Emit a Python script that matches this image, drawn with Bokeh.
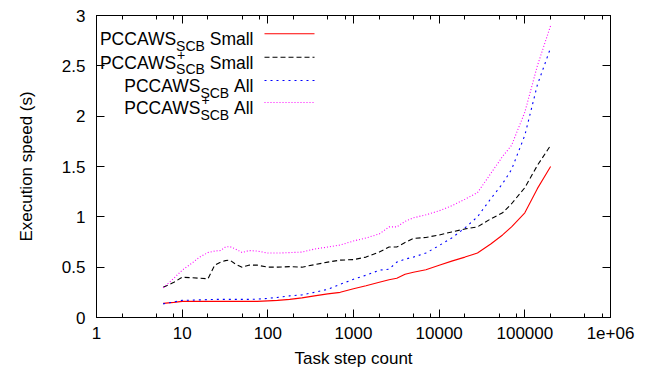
from bokeh.plotting import figure
from bokeh.models import Range1d, FixedTicker, LogAxis, LinearAxis, CustomJSTickFormatter, Label
from bokeh.embed import file_html
from bokeh.resources import INLINE
import math

# ---------------- data ----------------
steps = [6, 8, 10, 13, 16, 20, 24, 28, 32, 36,
         42, 50, 60, 75, 100, 130, 180, 250, 350, 500,
         700, 1000, 1400, 2000, 2600, 3200, 4000, 5000, 7000, 10000,
         14000, 20000, 28000, 40000, 55000, 70000, 100000, 140000, 200000]

small = [0.14, 0.15, 0.16, 0.16, 0.16, 0.16, 0.16, 0.16, 0.16, 0.16,
         0.16, 0.16, 0.16, 0.16, 0.165, 0.17, 0.18, 0.195, 0.215, 0.235,
         0.25, 0.285, 0.315, 0.35, 0.375, 0.39, 0.43, 0.45, 0.475, 0.52,
         0.56, 0.60, 0.64, 0.73, 0.82, 0.90, 1.04, 1.28, 1.50]

plus_small = [0.30, 0.35, 0.40, 0.395, 0.39, 0.385, 0.52, 0.55, 0.565, 0.57,
              0.53, 0.50, 0.52, 0.52, 0.50, 0.50, 0.505, 0.50, 0.525, 0.55,
              0.57, 0.575, 0.60, 0.65, 0.70, 0.70, 0.745, 0.785, 0.795, 0.82,
              0.85, 0.88, 0.90, 0.98, 1.04, 1.13, 1.29, 1.51, 1.71]

all_ = [0.135, 0.155, 0.17, 0.172, 0.175, 0.178, 0.18, 0.18, 0.18, 0.18,
        0.18, 0.18, 0.18, 0.182, 0.19, 0.20, 0.215, 0.225, 0.25, 0.28,
        0.33, 0.38, 0.42, 0.47, 0.48, 0.55, 0.58, 0.60, 0.64, 0.715,
        0.79, 0.89, 1.00, 1.18, 1.33, 1.47, 1.81, 2.31, 2.68]

plus_all = [0.295, 0.39, 0.47, 0.54, 0.60, 0.645, 0.66, 0.665, 0.70, 0.705,
            0.68, 0.645, 0.665, 0.66, 0.64, 0.64, 0.645, 0.65, 0.68, 0.70,
            0.72, 0.76, 0.79, 0.83, 0.90, 0.90, 0.955, 0.99, 1.02, 1.06,
            1.11, 1.175, 1.24, 1.43, 1.60, 1.71, 2.04, 2.50, 2.90]

x_ticks = [1, 10, 100, 1000, 10000, 100000, 1000000]
y_ticks = [0, 0.5, 1, 1.5, 2, 2.5, 3]

series_labels = [("PCCAWS", "", "SCB", "Small"),
                 ("PCCAWS", "+", "SCB", "Small"),
                 ("PCCAWS", "", "SCB", "All"),
                 ("PCCAWS", "+", "SCB", "All")]

# ---------------- styling ----------------
FONT = "Liberation Sans"
FS = 17
LEG_FS = 17.5
SUB_FS = 14
BL, BR, BT, BB = 96, 44, 15, 56
FRAME_W, FRAME_H = 514, 302
W, H = BL + FRAME_W + BR, BT + FRAME_H + BB
X0, X1 = 1, 1e6
Y0, Y1 = 0, 3

p = figure(width=W, height=H, x_axis_type="log",
           x_range=Range1d(X0, X1), y_range=Range1d(Y0, Y1),
           output_backend="svg", toolbar_location=None,
           min_border_left=BL, min_border_right=BR,
           min_border_top=BT, min_border_bottom=BB)
p.xgrid.visible = False
p.ygrid.visible = False
p.outline_line_color = "black"
p.outline_line_width = 1
p.background_fill_color = "white"
p.border_fill_color = "white"

minor = []
for d in range(6):
    for m in (2, 5, 8):
        minor.append(m * 10 ** d)
xticker = FixedTicker(ticks=x_ticks, minor_ticks=minor)
yticker = FixedTicker(ticks=y_ticks, minor_ticks=[])

xfmt = CustomJSTickFormatter(code="return tick >= 1e6 ? '1e+06' : tick.toFixed(0);")
yfmt = CustomJSTickFormatter(code="return String(tick);")
blank = CustomJSTickFormatter(code="return '';")


def style_axis(ax, show_labels):
    ax.axis_line_color = "black"
    ax.major_tick_line_color = "black"
    ax.minor_tick_line_color = "black"
    ax.major_tick_in = 8
    ax.major_tick_out = 0
    ax.major_label_text_font = FONT
    ax.major_label_text_color = "black"
    ax.axis_label_text_font = FONT
    ax.axis_label_text_font_style = "normal"
    ax.axis_label_text_color = "black"
    ax.axis_label_text_font_size = f"{FS}px"
    if show_labels:
        ax.major_label_text_font_size = f"{FS}px"
    else:
        ax.major_label_text_font_size = "1px"
        ax.major_label_standoff = 0


xa = p.xaxis[0]
xa.ticker = xticker
xa.formatter = xfmt
style_axis(xa, True)
xa.minor_tick_in = 4
xa.minor_tick_out = 0
xa.major_label_standoff = 9
xa.axis_label = "Task step count"
xa.axis_label_standoff = 7

ya = p.yaxis[0]
ya.ticker = yticker
ya.formatter = yfmt
style_axis(ya, True)
ya.minor_tick_in = 0
ya.minor_tick_out = 0
ya.major_label_standoff = 11
ya.axis_label = "Execution speed (s)"
ya.axis_label_standoff = 23

top = LogAxis(ticker=xticker, formatter=blank)
style_axis(top, False)
top.minor_tick_in = 4
top.minor_tick_out = 0
p.add_layout(top, "above")

right = LinearAxis(ticker=yticker, formatter=blank)
style_axis(right, False)
right.minor_tick_in = 0
right.minor_tick_out = 0
p.add_layout(right, "right")

styles = [("#ff0000", "solid"), ("#000000", "5 3"), ("#0000ff", "2 4"), ("#ff00ff", "1 2")]
data = [small, plus_small, all_, plus_all]

for ys, (col, dash) in zip(data, styles):
    p.line(steps, ys, line_color=col, line_width=1.1, line_dash=dash)


# ---------------- legend (manual, with sub/superscripts) ----------------
def sx(px):  # canvas pixel -> data x
    frac = (px - BL) / FRAME_W
    return 10 ** (math.log10(X0) + frac * (math.log10(X1) - math.log10(X0)))


def sy(py):  # canvas pixel -> data y
    frac = ((BT + FRAME_H) - py) / FRAME_H
    return Y0 + frac * (Y1 - Y0)


# Arial/Liberation Sans advance widths (em)
ADV = {"P": .667, "C": .722, "A": .667, "W": .944, "S": .667, "B": .667,
       " ": .278, "m": .833, "a": .556, "l": .222, "+": .584}


def tw(s, fs):
    return sum(ADV.get(c, .556) for c in s) * fs


TEXT_RIGHT = 253
ROW_Y = [33.3, 56.7, 80.0, 102.0]
for (main, sup, sub, suffix), ry, (col, dash) in zip(series_labels, ROW_Y, styles):
    ax = sx(TEXT_RIGHT)
    base = ry + 5.5
    w_suf = tw(" " + suffix, LEG_FS)
    w_sub = tw(sub, SUB_FS)
    common = dict(x=ax, text_font=FONT, text_color="black", text_baseline="alphabetic")
    p.add_layout(Label(y=sy(base), text=suffix, text_align="right", x_offset=0,
                       text_font_size=f"{LEG_FS}px", **common))
    p.add_layout(Label(y=sy(base + 6.5), text=sub, text_align="right", x_offset=-w_suf,
                       text_font_size=f"{SUB_FS}px", **common))
    if sup:
        p.add_layout(Label(y=sy(base - 8), text=sup, text_align="left",
                           x_offset=-w_suf - w_sub + 1,
                           text_font_size=f"{SUB_FS}px", **common))
    p.add_layout(Label(y=sy(base), text=main, text_align="right", x_offset=-w_suf - w_sub,
                       text_font_size=f"{LEG_FS}px", **common))
    p.line([sx(264), sx(314)], [sy(ry), sy(ry)], line_color=col, line_width=1.1, line_dash=dash)

open("out.html", "w").write(file_html(p, INLINE))
